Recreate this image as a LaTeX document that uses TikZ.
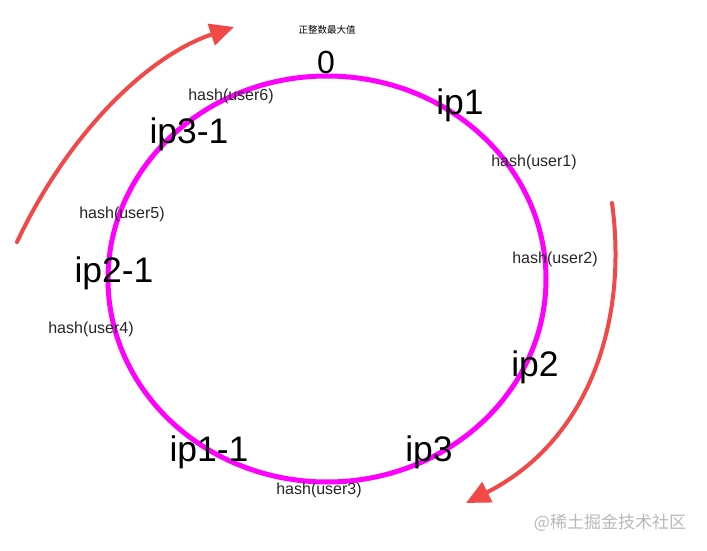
\documentclass[tikz,border=0pt]{standalone}
\usepackage{fontspec}
\setmainfont{Liberation Sans}
\newfontfamily\cjk{Noto Sans CJK SC}
\usetikzlibrary{arrows.meta}
\definecolor{ringc}{RGB}{255,0,255}
\definecolor{arrc}{RGB}{242,72,72}
\definecolor{wmc}{RGB}{185,185,185}
\begin{document}
\begin{tikzpicture}[x=1pt,y=-1pt,
  ip/.style={font=\fontsize{35.5}{36}\selectfont, inner sep=0pt},
  hs/.style={font=\fontsize{16}{16}\selectfont, text=black!85, inner sep=0pt},
  ring/.style={draw=ringc, line width=5pt},
  turn/.style={draw=arrc, line width=4pt, line cap=round, -{Triangle[length=24pt,width=22pt]}}]
\useasboundingbox (0,0) rectangle (707,551);
\fill[white] (0,0) rectangle (707,551);
% ring
\coordinate (c) at (327,279);
\draw[ring] (c) ellipse [x radius=219, y radius=203];
% labels
\node[inner sep=0pt, font=\cjk\fontsize{9.5}{10}\selectfont] (max) at (327,30) {正整数最大值};
\node[ip, font=\fontsize{32}{32}\selectfont] (zero) at (326,62) {0};
\node[ip] (ip1) at (460,105) {ip1};
\node[ip] (ip31) at (189,134) {ip3-1};
\node[ip] (ip21) at (114,273) {ip2-1};
\node[ip] (ip2) at (535,367) {ip2};
\node[ip] (ip11) at (209,452) {ip1-1};
\node[ip] (ip3) at (429,452) {ip3};
\node[hs] (u6) at (231,96) {hash(user6)};
\node[hs] (u1) at (534,162) {hash(user1)};
\node[hs] (u5) at (122,214) {hash(user5)};
\node[hs] (u2) at (555,259) {hash(user2)};
\node[hs] (u4) at (91,329) {hash(user4)};
\node[hs] (u3) at (319,490) {hash(user3)};
% arrows
\coordinate (a1s) at (17,242);
\coordinate (a1e) at (234,27);
\coordinate (a2s) at (612,203);
\coordinate (a2e) at (466,503);
\draw[turn] (a1s) .. controls (70,130) and (150,55) .. (a1e);
\draw[turn] (a2s) .. controls (628,320) and (590,440) .. (a2e);
% watermark
\node[inner sep=0pt, text=wmc, font=\cjk\fontsize{17}{17}\selectfont] (wm) at (610,523) {@稀土掘金技术社区};
\end{tikzpicture}
\end{document}
